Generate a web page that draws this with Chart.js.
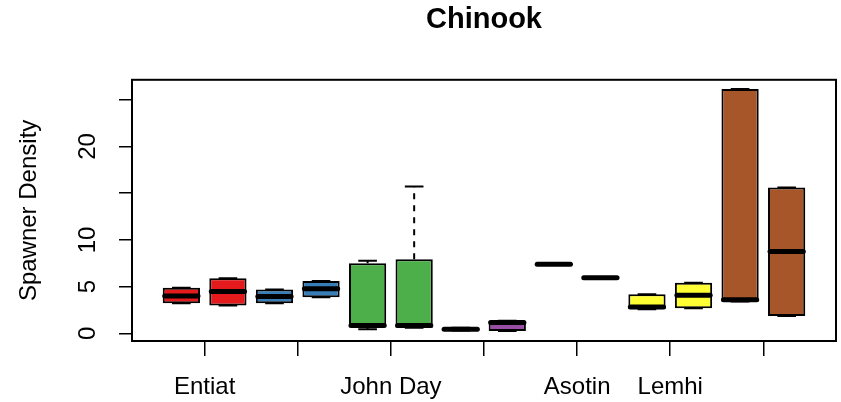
<!DOCTYPE html>
<html lang="en">
<head>
    <meta charset="UTF-8">
    <title>Chinook</title>
    <script src="https://cdn.jsdelivr.net/npm/chart.js"></script>
    <style>
        body {
            margin: 0;
            padding: 0;
            background: #ffffff;
        }
        canvas {
            display: block;
        }
    </style>
</head>
<body>

<canvas id="spawnerChart" width="841" height="402"></canvas>

<script>
    // Five-number summaries, one entry per box (two boxes per river)
    const boxMin    = [3.22, 2.98, 3.22, 3.87, 0.43, 0.60, 0.30, 0.25, 7.40, 5.96, 2.57, 2.68, 3.40, 1.85];
    const boxQ1     = [3.22, 2.98, 3.22, 3.87, 0.68, 0.60, 0.38, 0.25, 7.40, 5.96, 2.57, 2.68, 3.40, 1.85];
    const boxMedian = [4.00, 4.48, 3.94, 4.77, 0.85, 0.85, 0.45, 1.15, 7.40, 5.96, 2.82, 4.07, 3.60, 8.75];
    const boxQ3     = [4.88, 5.91, 4.69, 5.59, 7.50, 7.93, 0.52, 1.35, 7.40, 5.96, 4.18, 5.42, 26.15, 15.60];
    const boxMax    = [4.88, 5.91, 4.69, 5.59, 7.78, 15.71, 0.60, 1.35, 7.40, 5.96, 4.18, 5.42, 26.15, 15.60];

    const boxFill = ['#E41A1C', '#E41A1C', '#377EB8', '#377EB8', '#4DAF4A', '#4DAF4A', '#984EA3',
                     '#984EA3', '#FF7F00', '#FF7F00', '#FFFF33', '#FFFF33', '#A65628', '#A65628'];

    // River labels sit between each pair of boxes
    const xTickPos    = [1.5, 3.5, 5.5, 7.5, 9.5, 11.5, 13.5];
    const xTickLabels = ['Entiat', '', 'John Day', '', 'Asotin', 'Lemhi', ''];

    const yTickPos    = [0, 5, 10, 15, 20, 25];
    const yTickLabels = ['0', '5', '10', '', '20', ''];

    const FONT = 'Liberation Sans, Arial, Helvetica, sans-serif';

    // whiskers, staples and median bars on top of the floating bars
    const boxExtras = {
        id: 'boxExtras',
        afterDatasetsDraw(chart) {
            const ctx = chart.ctx;
            const y = chart.scales.y;
            const meta = chart.getDatasetMeta(0);
            meta.data.forEach((bar, i) => {
                const { x, width } = bar.getProps(['x', 'width'], true);
                const half = width / 2;
                const yMin = y.getPixelForValue(boxMin[i]);
                const yQ1 = y.getPixelForValue(boxQ1[i]);
                const yQ3 = y.getPixelForValue(boxQ3[i]);
                const yMax = y.getPixelForValue(boxMax[i]);
                const yMed = y.getPixelForValue(boxMedian[i]);

                ctx.save();
                ctx.strokeStyle = '#000';
                ctx.lineWidth = 2;
                ctx.setLineDash([6, 6]);
                ctx.beginPath();
                ctx.moveTo(x, yQ3);
                ctx.lineTo(x, yMax);
                ctx.moveTo(x, yQ1);
                ctx.lineTo(x, yMin);
                ctx.stroke();

                ctx.setLineDash([]);
                ctx.beginPath();
                ctx.moveTo(x - half / 2, yMax);
                ctx.lineTo(x + half / 2, yMax);
                ctx.moveTo(x - half / 2, yMin);
                ctx.lineTo(x + half / 2, yMin);
                ctx.stroke();

                ctx.lineWidth = 5;
                ctx.lineCap = 'round';
                ctx.beginPath();
                ctx.moveTo(x - half + 2, yMed);
                ctx.lineTo(x + half - 2, yMed);
                ctx.stroke();
                ctx.restore();
            });
        },
        afterDraw(chart) {
            const ctx = chart.ctx;
            const a = chart.chartArea;
            const y = chart.scales.y;
            ctx.save();
            // frame around the plot region
            ctx.strokeStyle = '#000';
            ctx.lineWidth = 2;
            ctx.strokeRect(a.left, a.top, a.right - a.left, a.bottom - a.top);

            // rotated y tick labels
            ctx.fillStyle = '#000';
            ctx.font = '24px ' + FONT;
            ctx.textAlign = 'center';
            ctx.textBaseline = 'middle';
            yTickPos.forEach((v, i) => {
                if (!yTickLabels[i]) return;
                ctx.save();
                ctx.translate(88, y.getPixelForValue(v));
                ctx.rotate(-Math.PI / 2);
                ctx.fillText(yTickLabels[i], 0, 0);
                ctx.restore();
            });
            ctx.restore();
        }
    };

    const ctx = document.getElementById('spawnerChart').getContext('2d');

    new Chart(ctx, {
        type: 'bar',
        data: {
            datasets: [{
                data: boxQ1.map((q1, i) => ({ x: i + 1, y: [q1, boxQ3[i]] })),
                backgroundColor: boxFill,
                borderColor: '#000',
                borderWidth: 2,
                borderSkipped: false,
                barPercentage: 0.8,
                categoryPercentage: 1
            }]
        },
        options: {
            responsive: false,
            animation: false,
            layout: {
                padding: { right: 5 }
            },
            plugins: {
                legend: { display: false },
                tooltip: { enabled: false },
                title: {
                    display: true,
                    text: 'Chinook',
                    fullSize: false,
                    color: '#000',
                    font: { family: FONT, size: 29, weight: 'bold' },
                    padding: { top: 3, bottom: 42 }
                }
            },
            scales: {
                x: {
                    type: 'linear',
                    min: -0.06,
                    max: 15.06,
                    offset: false,
                    afterBuildTicks: s => { s.ticks = xTickPos.map(v => ({ value: v })); },
                    afterFit: s => { s.height = 61; },
                    ticks: {
                        autoSkip: false,
                        maxRotation: 0,
                        padding: 17,
                        color: '#000',
                        font: { family: FONT, size: 24 },
                        callback: (v, i) => xTickLabels[i]
                    },
                    grid: {
                        offset: false,
                        drawOnChartArea: false,
                        tickLength: 15,
                        color: '#000',
                        lineWidth: 1.5
                    },
                    border: { display: true, color: '#000', width: 2 }
                },
                y: {
                    min: -0.82,
                    max: 27.14,
                    afterBuildTicks: s => { s.ticks = yTickPos.map(v => ({ value: v })); },
                    afterFit: s => { s.width = 132; },
                    ticks: { display: false },
                    grid: {
                        drawOnChartArea: false,
                        tickLength: 13,
                        color: '#000',
                        lineWidth: 1.5
                    },
                    border: { display: true, color: '#000', width: 2 },
                    title: {
                        display: true,
                        text: 'Spawner Density',
                        color: '#000',
                        font: { family: FONT, size: 24 },
                        padding: { top: 15, bottom: 0 }
                    }
                }
            }
        },
        plugins: [boxExtras]
    });
</script>

</body>
</html>
